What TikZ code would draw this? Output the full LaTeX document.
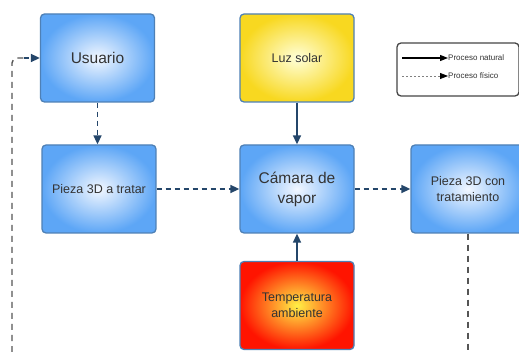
\documentclass[tikz,border=0pt]{standalone}
\usepackage{fontspec}
\setmainfont{Liberation Sans}
\usetikzlibrary{arrows.meta}
\definecolor{boxblue}{HTML}{5DA6F6}
\definecolor{boxin}{HTML}{F2F7FF}
\definecolor{edgeblue}{HTML}{4E80B6}
\definecolor{navy}{HTML}{24466A}
\definecolor{txt}{HTML}{333333}
\definecolor{dgray}{HTML}{555555}
\tikzset{
  boxbase/.style={draw=edgeblue, line width=1.3pt, rounded corners=4pt,
    minimum width=114pt, minimum height=88pt, align=center, text=txt, inner sep=2pt},
  bluebox/.style={boxbase, inner color=boxin, outer color=boxblue},
  yellowbox/.style={boxbase, inner color=yellow!15, outer color={rgb,255:red,248;green,216;blue,32}},
  redbox/.style={boxbase, inner color={rgb,255:red,255;green,240;blue,70}, outer color={rgb,255:red,255;green,20;blue,0}},
  bigtxt/.style={font=\fontsize{15.5}{20}\selectfont},
  smalltxt/.style={font=\fontsize{12.5}{16}\selectfont},
  solidarrow/.style={draw=navy, line width=1.6pt, -{Triangle[length=9pt,width=8pt]}},
  dasharrow/.style={draw=navy, line width=1.6pt, dash pattern=on 5pt off 4pt, -{Triangle[length=9pt,width=8pt]}},
  longdash/.style={draw=dgray, line width=1.4pt, dash pattern=on 6pt off 5pt},
}
\begin{document}
\begin{tikzpicture}[x=1pt,y=-1pt]
\useasboundingbox (0,0) rectangle (519,352);
\clip (0,0) rectangle (519,352);
\fill[white] (0,0) rectangle (519,352);

\node[bluebox, bigtxt] (usuario) at (97.5,58) {Usuario};
\node[yellowbox, smalltxt] (luz) at (297,58) {Luz solar};
\node[bluebox, smalltxt] (pieza) at (99,189) {Pieza 3D a tratar};
\node[bluebox, bigtxt] (camara) at (297,189) {Cámara de\\vapor};
\node[bluebox, smalltxt] (piezacon) at (468,189) {Pieza 3D con\\tratamiento};
\node[redbox, smalltxt] (temp) at (297,305.5) {Temperatura\\ambiente};

% legend
\node[draw={rgb,255:red,70;green,70;blue,70}, line width=1.3pt, rounded corners=4pt,
  minimum width=122pt, minimum height=53pt, fill=white] (legend) at (458,69.5) {};
\coordinate (l1a) at (402,58);
\coordinate (l1b) at (448,58);
\coordinate (l2a) at (402,76);
\coordinate (l2b) at (448,76);
\draw[black, line width=1.3pt, -{Triangle[length=8pt,width=6pt]}] (l1a) -- (l1b);
\draw[gray, line width=0.8pt, dash pattern=on 2pt off 2pt] (l2a) -- ([xshift=-8pt]l2b);
\draw[black, line width=0.8pt, -{Triangle[length=8pt,width=6pt]}] ([xshift=-8.5pt]l2b) -- (l2b);
\node[anchor=west, inner sep=0pt, text=txt, font=\fontsize{8}{9}\selectfont] (lt1) at (448,58) {Proceso natural};
\node[anchor=west, inner sep=0pt, text=txt, font=\fontsize{8}{9}\selectfont] (lt2) at (448,76) {Proceso físico};

% connectors
\draw[dasharrow] (usuario.south) -- (pieza.north -| usuario.south);
\draw[solidarrow] (luz) -- (camara);
\draw[solidarrow] (temp) -- (camara);
\draw[dasharrow] (pieza) -- (camara);
\draw[dasharrow] (camara) -- (piezacon);

\coordinate (lb) at (12,352);
\coordinate (lc) at (12,58);
\coordinate (ld) at (24,58);
\coordinate (rb) at (piezacon.south |- lb);
\draw[longdash, rounded corners=5pt] (lb) -- (lc) -- (ld);
\draw[dasharrow] (ld) -- (usuario.west);
\draw[longdash] (piezacon.south) -- (rb);
\end{tikzpicture}
\end{document}
